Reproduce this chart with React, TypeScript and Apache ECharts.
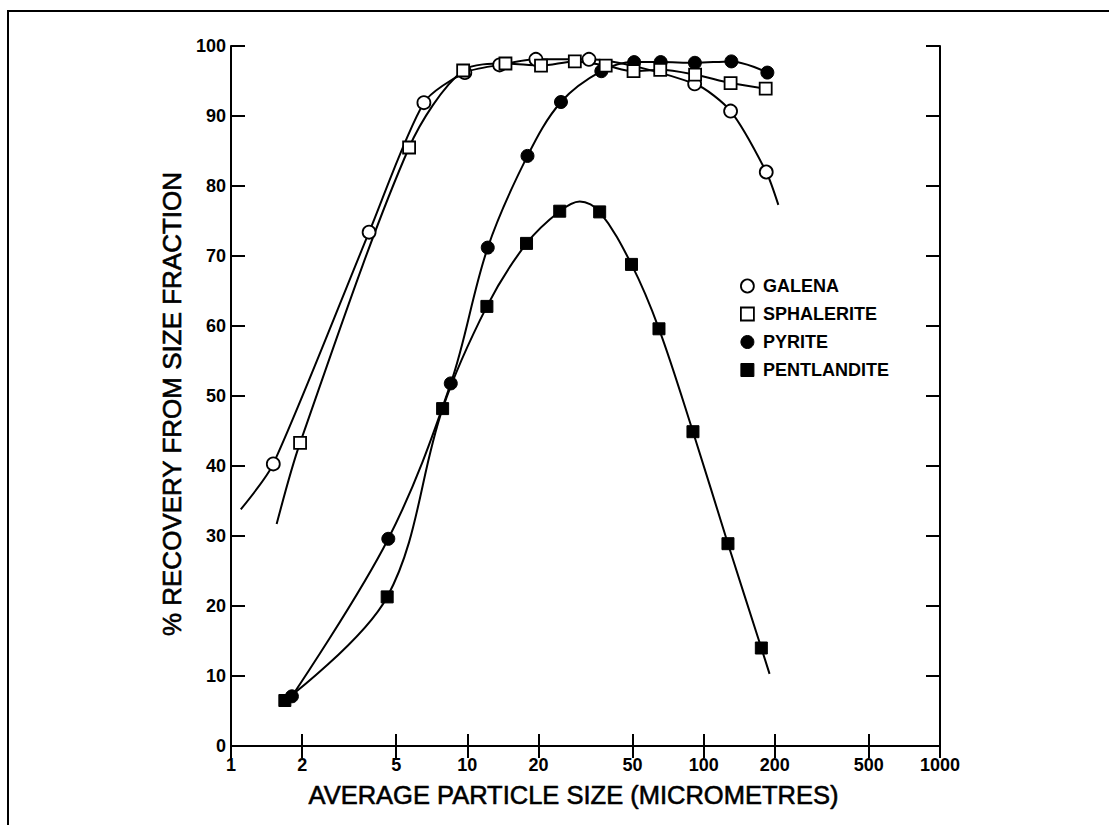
import React, { useEffect, useRef } from "react";
import * as echarts from "echarts";

// ---- data ----
const tickValues = [1, 2, 5, 10, 20, 50, 100, 200, 500, 1000];
const yTicks = [0, 10, 20, 30, 40, 50, 60, 70, 80, 90, 100];

// [particle size (µm), % recovery]; curve-only entries are line points without a marker
const galenaPoints: number[][] = [
  [1.51, 40.3], [3.84, 73.4], [6.55, 91.9], [9.76, 96.2], [13.7, 97.3],
  [19.5, 98.1], [32.7, 98.1], [91.6, 94.6], [130, 90.7], [184, 82.0],
];
const galenaCurveStart = [1.1, 33.8];
const galenaCurveEnd = [207, 77.3];

const sphaleritePoints: number[][] = [
  [1.96, 43.3], [5.67, 85.5], [9.6, 96.5], [14.5, 97.5], [20.5, 97.2],
  [28.5, 97.8], [38.5, 97.2], [50.5, 96.4], [65.5, 96.6], [92, 95.9],
  [130, 94.7], [183, 93.9],
];
const sphaleriteCurveStart = [1.56, 31.7];

const pyritePoints: number[][] = [
  [1.81, 7.1], [4.63, 29.6], [8.51, 51.8], [12.2, 71.2], [17.97, 84.3],
  [24.9, 92.0], [36.9, 96.4], [50.8, 97.7], [65.8, 97.7], [91.8, 97.6],
  [131, 97.8], [186, 96.2],
];

const pentlanditePointsRising: number[][] = [
  [1.69, 6.5], [4.58, 21.3], [7.86, 48.2], [12.1, 62.8], [17.8, 71.8],
  [24.6, 76.4],
];
const pentlanditeCurvePeak = [29.9, 77.8];
const pentlanditePointsFalling: number[][] = [
  [36.3, 76.3], [49.5, 68.8], [64.7, 59.6], [90.1, 44.9],
  [126.7, 28.9], [175.4, 14.0],
];
const pentlanditeCurveEnd = [190, 10.3];

const seriesNames = ["GALENA", "SPHALERITE", "PYRITE", "PENTLANDITE"];

const FONT = "'Liberation Sans', Arial, Helvetica, sans-serif";

const noSymbol = (p: number[]) => ({ value: p, symbol: "none" });

export default function App() {
  const ref = useRef<HTMLDivElement>(null);

  useEffect(() => {
    if (!ref.current) return;
    const chart = echarts.init(ref.current, null, { renderer: "svg" });

    const openStyle = { color: "#fff", borderColor: "#000", borderWidth: 1.8 };
    const filledStyle = { color: "#000", borderColor: "#000", borderWidth: 1 };
    const line = { color: "#000", width: 2 };

    const mkSeries = (name: string, data: any[], symbol: string, size: number, style: any, smooth = 0.35) => ({
      name,
      type: "line",
      smooth,
      data,
      symbol,
      symbolSize: size,
      showAllSymbol: true,
      lineStyle: line,
      itemStyle: style,
      emphasis: { disabled: true },
      z: name === "PYRITE" || name === "PENTLANDITE" ? 3 : 4,
    });

    const titleStyle = {
      fontFamily: FONT,
      fontWeight: "normal",
      color: "#000",
      textBorderColor: "#000",
      textBorderWidth: 0.6,
    };

    const option: any = {
      animation: false,
      backgroundColor: "#fff",
      textStyle: { fontFamily: FONT },
      grid: { left: 231, top: 46, width: 709, height: 700 },
      legend: {
        orient: "vertical",
        left: 735,
        top: 272,
        itemWidth: 13,
        itemHeight: 13,
        itemGap: 10,
        selectedMode: false,
        textStyle: { fontFamily: FONT, fontWeight: "bold", fontSize: 18, color: "#000", padding: [0, 0, 0, 4] },
        data: [
          { name: seriesNames[0], icon: "circle", itemStyle: openStyle },
          { name: seriesNames[1], icon: "rect", itemStyle: openStyle },
          { name: seriesNames[2], icon: "circle", itemStyle: filledStyle },
          { name: seriesNames[3], icon: "rect", itemStyle: filledStyle },
        ],
      },
      graphic: [
        {
          type: "rect",
          shape: { x: 8, y: 11, width: 1300, height: 1000 },
          style: { fill: "none", stroke: "#000", lineWidth: 2 },
          silent: true,
        },
      ],
      xAxis: [
        {
          type: "log",
          logBase: 10,
          min: 1,
          max: 1000,
          position: "bottom",
          name: "AVERAGE PARTICLE SIZE (MICROMETRES)",
          nameLocation: "middle",
          nameGap: 36,
          nameTextStyle: { ...titleStyle, fontSize: 25.5, padding: [0, 24, 0, 0] },
          axisLine: { show: true, lineStyle: { color: "#000", width: 2 } },
          axisTick: { show: true, inside: true, length: 12, lineStyle: { color: "#000", width: 2 }, customValues: tickValues },
          axisLabel: {
            show: true,
            customValues: tickValues,
            margin: 10,
            fontFamily: FONT,
            fontWeight: "bold",
            fontSize: 18,
            color: "#000",
            formatter: (v: number) => String(Math.round(v)),
          },
          minorTick: { show: false },
          splitLine: { show: false },
        },
        {
          type: "log",
          logBase: 10,
          min: 1,
          max: 1000,
          position: "top",
          axisLine: { show: true, lineStyle: { color: "#000", width: 2 } },
          axisTick: { show: true, inside: true, length: 12, lineStyle: { color: "#000", width: 2 }, customValues: tickValues },
          axisLabel: { show: false, customValues: tickValues },
          splitLine: { show: false },
        },
      ],
      yAxis: [
        {
          type: "value",
          min: 0,
          max: 100,
          interval: 10,
          position: "left",
          name: "% RECOVERY FROM SIZE FRACTION",
          nameLocation: "middle",
          nameGap: 44,
          nameRotate: 90,
          nameTextStyle: { ...titleStyle, fontSize: 26, padding: [0, 16, 0, 0] },
          axisLine: { show: true, lineStyle: { color: "#000", width: 2 } },
          axisTick: { show: true, inside: true, length: 14, lineStyle: { color: "#000", width: 2 } },
          axisLabel: {
            margin: 5,
            fontFamily: FONT,
            fontWeight: "bold",
            fontSize: 18,
            color: "#000",
            customValues: yTicks,
          },
          splitLine: { show: false },
        },
        {
          type: "value",
          min: 0,
          max: 100,
          interval: 10,
          position: "right",
          axisLine: { show: true, lineStyle: { color: "#000", width: 2 } },
          axisTick: { show: true, inside: true, length: 14, lineStyle: { color: "#000", width: 2 } },
          axisLabel: { show: false },
          splitLine: { show: false },
        },
      ],
      series: [
        mkSeries(
          seriesNames[0],
          [noSymbol(galenaCurveStart), ...galenaPoints, noSymbol(galenaCurveEnd)],
          "circle",
          13,
          openStyle,
          0.25
        ),
        mkSeries(
          seriesNames[1],
          [noSymbol(sphaleriteCurveStart), ...sphaleritePoints],
          "rect",
          12,
          openStyle,
          0.3
        ),
        mkSeries(seriesNames[2], pyritePoints, "circle", 13, filledStyle),
        mkSeries(
          seriesNames[3],
          [
            ...pentlanditePointsRising,
            noSymbol(pentlanditeCurvePeak),
            ...pentlanditePointsFalling,
            noSymbol(pentlanditeCurveEnd),
          ],
          "rect",
          12,
          filledStyle
        ),
      ],
    };

    chart.setOption(option);
    return () => chart.dispose();
  }, []);

  return (
    <div
      ref={ref}
      style={{ position: "absolute", left: 0, top: 0, width: 1109, height: 825, background: "#fff" }}
    />
  );
}
